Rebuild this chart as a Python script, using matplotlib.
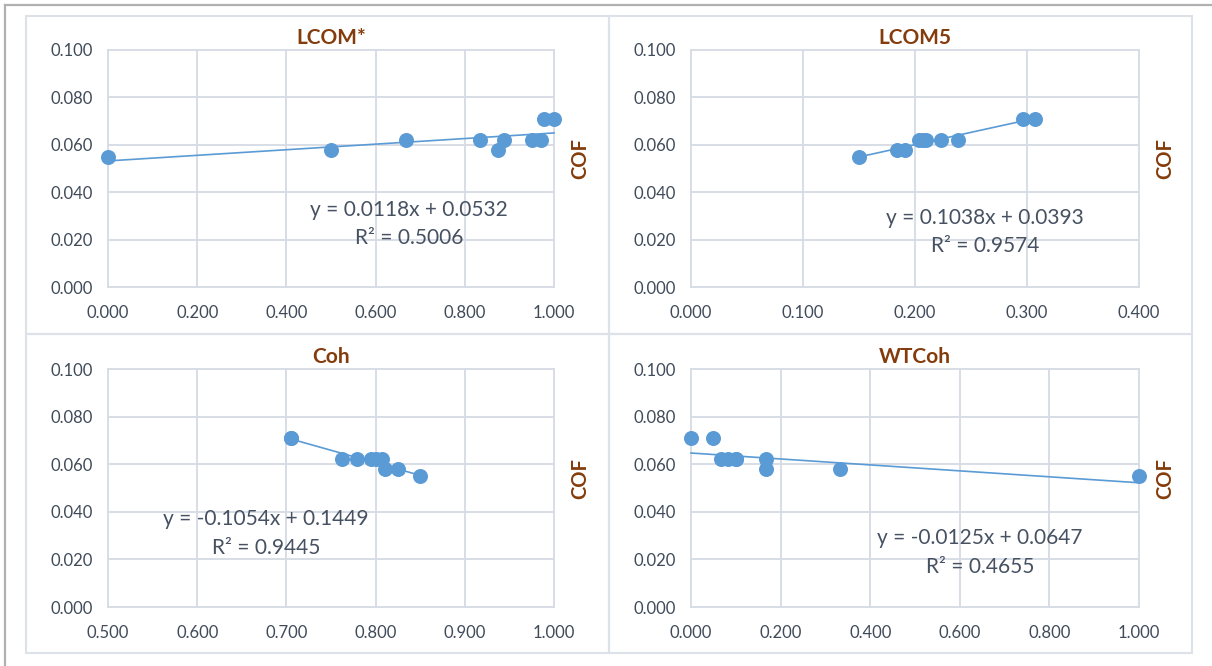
import matplotlib
matplotlib.use('Agg')
import matplotlib.pyplot as plt
from matplotlib.patches import Rectangle
from matplotlib.lines import Line2D

plt.rcParams['font.family'] = ['Lato', 'DejaVu Sans']

# COF values shared by the four metrics (one per class)
titles = ['LCOM*', 'LCOM5', 'Coh', 'WTCoh']

lcom_x = [0.000, 0.500, 0.668, 0.834, 0.875, 0.889, 0.950, 0.971, 0.977, 1.000]
lcom_y = [0.055, 0.058, 0.062, 0.062, 0.058, 0.062, 0.062, 0.062, 0.071, 0.071]

lcom5_x = [0.150, 0.184, 0.191, 0.204, 0.207, 0.210, 0.223, 0.238, 0.296, 0.307]
lcom5_y = [0.055, 0.058, 0.058, 0.062, 0.062, 0.062, 0.062, 0.062, 0.071, 0.071]

coh_x = [0.705, 0.705, 0.762, 0.779, 0.795, 0.800, 0.807, 0.811, 0.825, 0.850]
coh_y = [0.071, 0.071, 0.062, 0.062, 0.062, 0.062, 0.062, 0.058, 0.058, 0.055]

wtcoh_x = [0.000, 0.050, 0.067, 0.083, 0.100, 0.100, 0.167, 0.167, 0.333, 1.000]
wtcoh_y = [0.071, 0.071, 0.062, 0.062, 0.062, 0.062, 0.062, 0.058, 0.058, 0.055]

# trendline coefficients as printed on the chart
slopes = [0.0118, 0.1038, -0.1054, -0.0125]
intercepts = [0.0532, 0.0393, 0.1449, 0.0647]
r2 = [0.5006, 0.9574, 0.9445, 0.4655]

xs = [lcom_x, lcom5_x, coh_x, wtcoh_x]
ys = [lcom_y, lcom5_y, coh_y, wtcoh_y]
xlims = [(0.0, 1.0), (0.0, 0.4), (0.5, 1.0), (0.0, 1.0)]
xsteps = [0.2, 0.1, 0.1, 0.2]
yticks = [0.0, 0.02, 0.04, 0.06, 0.08, 0.1]

W, H = 1212, 666
fig = plt.figure(figsize=(W / 100, H / 100), dpi=100)

# axes rectangles in pixels: left, top, right, bottom
boxes = [(108, 50, 554, 287), (691, 50, 1139, 287),
         (108, 369, 554, 607), (691, 369, 1139, 607)]
eqpos = [(0.675, 0.325, 0.207), (0.656, 0.291, 0.173),
         (0.354, 0.370, 0.248), (0.645, 0.290, 0.168)]
cofy = [0.544, 0.544, 0.538, 0.538]

blue = '#5b9bd5'
brown = '#843c0c'
grid = '#d6dbe4'
tick = '#404b5a'
eqcol = '#465162'

# chart area frames
for (l, t, r, b) in [(26, 16, 609, 334), (609, 16, 1192, 334),
                     (26, 334, 609, 653), (609, 334, 1192, 653)]:
    fig.patches.append(Rectangle((l / W, 1 - b / H), (r - l) / W, (b - t) / H,
                                 transform=fig.transFigure, fill=False,
                                 edgecolor='#dde1e8', linewidth=1.5))
fig.lines.append(Line2D([5 / W, 5 / W], [0, 1 - 5 / H], transform=fig.transFigure,
                        color='#b0b0b0', linewidth=1.6))
fig.lines.append(Line2D([5 / W, 1], [1 - 5 / H, 1 - 5 / H], transform=fig.transFigure,
                        color='#b0b0b0', linewidth=1.6))

for i in range(4):
    l, t, r, b = boxes[i]
    ax = fig.add_axes([l / W, 1 - b / H, (r - l) / W, (b - t) / H])
    x0, x1 = xlims[i]
    n = int(round((x1 - x0) / xsteps[i]))
    xt = [x0 + k * xsteps[i] for k in range(n + 1)]
    ax.set_xlim(x0, x1)
    ax.set_ylim(0, 0.1)
    ax.set_xticks(xt)
    ax.set_yticks(yticks)
    ax.set_xticklabels(['%.3f' % v for v in xt])
    ax.set_yticklabels(['%.3f' % v for v in yticks])
    ax.tick_params(length=0, labelsize=12, labelcolor=tick, pad=11)
    ax.tick_params(axis='x', pad=13)
    for s in ax.spines.values():
        s.set_visible(False)
    for v in xt:
        ax.axvline(v, color=grid, linewidth=1.3, zorder=0, clip_on=False)
    for v in yticks:
        ax.axhline(v, color=grid, linewidth=1.3, zorder=0, clip_on=False)

    lo, hi = min(xs[i]), max(xs[i])
    ax.plot([lo, hi], [slopes[i] * lo + intercepts[i], slopes[i] * hi + intercepts[i]],
            color=blue, linewidth=1.2, zorder=2, clip_on=False)
    ax.plot(xs[i], ys[i], 'o', color=blue, markersize=10.8, markeredgewidth=0,
            zorder=3, clip_on=False)

    ax.text(0.5, 1.05, titles[i], transform=ax.transAxes, ha='center', va='center',
            fontsize=15, fontweight='bold', color=brown)
    ax.text(1.058, cofy[i], 'COF', transform=ax.transAxes, ha='center', va='center',
            rotation=90, fontsize=14.5, fontweight='bold', color=brown)

    ex, ey1, ey2 = eqpos[i]
    if slopes[i] < 0:
        eq = 'y = -%.4fx + %.4f' % (abs(slopes[i]), intercepts[i])
    else:
        eq = 'y = %.4fx + %.4f' % (slopes[i], intercepts[i])
    ax.text(ex, ey1, eq, transform=ax.transAxes, ha='center', va='center',
            fontsize=15, color=eqcol)
    ax.text(ex, ey2, 'R² = %.4f' % r2[i], transform=ax.transAxes, ha='center',
            va='center', fontsize=15, color=eqcol)

fig.savefig('out.png', dpi=100)
